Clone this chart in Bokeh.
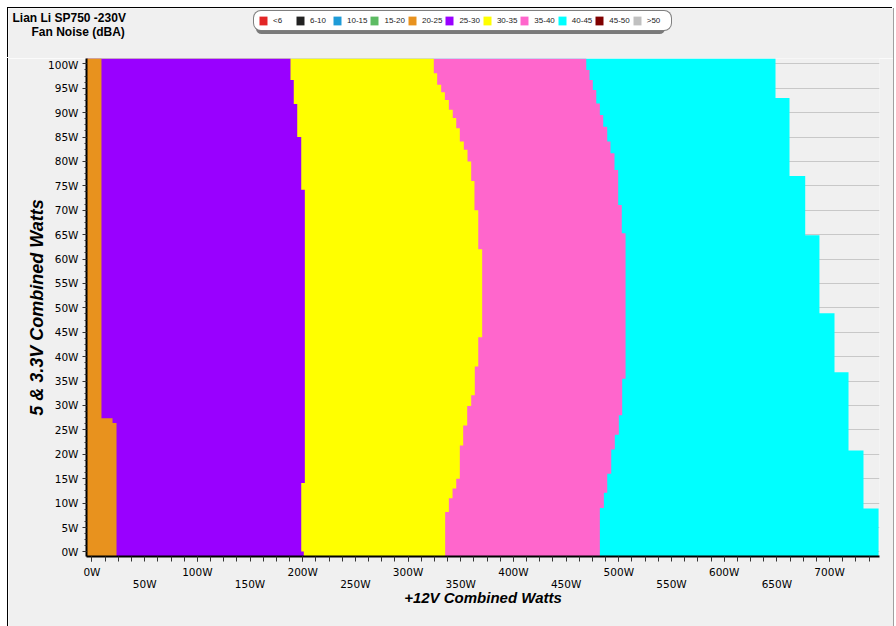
from bokeh.plotting import figure
from bokeh.models import (FixedTicker, PrintfTickFormatter, LinearAxis, Label,
                          Legend, LegendItem, Range1d, Spacer, Plot)
from bokeh.layouts import column, row
from bokeh.embed import file_html
from bokeh.resources import INLINE

# ---------------- data ----------------
title_line1 = "Lian Li SP750 -230V"
title_line2 = "Fan Noise (dBA)"
x_title = "+12V Combined Watts"
y_title = "5 & 3.3V Combined Watts"

legend_labels = ["<6", "6-10", "10-15", "15-20", "20-25", "25-30",
                 "30-35", "35-40", "40-45", "45-50", ">50"]
legend_colors = ["#E32626", "#222222", "#1E9BD7", "#5DBB63", "#E8921E", "#9900FF",
                 "#FFFF00", "#FF66CC", "#00FFFF", "#7F0000", "#C0C0C0"]

x_ticks_top = [0, 100, 200, 300, 400, 500, 600, 700]
x_ticks_bottom = [50, 150, 250, 350, 450, 550, 650]
y_ticks = [0, 5, 10, 15, 20, 25, 30, 35, 40, 45, 50, 55, 60, 65, 70, 75, 80, 85, 90, 95, 100]

# row edges (5V & 3.3V watts, top -> bottom) and right edge (+12V watts) of each band
band_20_25_y = [101.1, 27.4, 26.4, -0.94]
band_20_25_x = [9.0, 19.5, 23.3]

band_25_30_y = [101.1, 96.7, 91.8, 85.0, 74.2, 14.1, 0.1, -0.94]
band_25_30_x = [188.4, 191.5, 194.8, 198.6, 202.0, 198.6, 201.0]

band_30_35_y = [101.1, 98.1, 95.7, 94.2, 92.6, 90.6, 88.9, 86.8, 84.1, 82.4, 80.0, 76.0,
                70.0, 62.0, 44.0, 38.0, 32.1, 29.9, 25.9, 21.8, 15.0, 13.0, 11.0, 8.2, -0.94]
band_30_35_x = [324.4, 327.6, 331.4, 334.9, 338.7, 342.4, 345.7, 349.1, 352.9, 356.4, 359.9,
                363.0, 366.6, 370.3, 366.6, 363.3, 359.9, 356.1, 352.3, 349.1, 345.7, 342.2,
                338.7, 335.2]

band_35_40_y = [101.1, 98.75, 96.7, 94.65, 91.9, 89.5, 87.1, 84.1, 81.7, 78.25, 71.1, 65.3,
                35.5, 28.0, 24.0, 21.0, 16.0, 12.1, 9.0, -0.94]
band_35_40_x = [469.1, 472.2, 475.3, 478.6, 482.0, 485.2, 489.0, 492.1, 495.9, 499.4, 502.8,
                506.4, 503.2, 500.0, 496.2, 492.8, 489.0, 485.8, 482.0]

band_40_45_y = [101.1, 93.0, 77.0, 64.9, 48.9, 36.8, 20.8, 8.9, -0.94]
band_40_45_x = [648.7, 662.0, 676.9, 690.4, 704.7, 718.0, 732.2, 746.5]

X0, X1 = -5.2, 747.4
Y0, Y1 = -0.94, 101.1

BG = "#F0F0F0"
W = 885
HAS_FRAME_ALIGN = "frame_align" in Plot.properties()

# ---------------- header (titles + legend) ----------------
head = figure(width=W, height=50, x_range=Range1d(0, W), y_range=Range1d(50, 0),
              output_backend="svg", toolbar_location=None,
              x_axis_location=None, y_axis_location=None,
              min_border_left=0, min_border_right=0, min_border_top=0, min_border_bottom=0,
              background_fill_color=BG, border_fill_color=BG)
head.outline_line_color = None
head.grid.visible = False
head.styles = {"box-shadow": "-1px -1px 0 0 #000000, 1px 0 0 0 #A0A0A0"}
if HAS_FRAME_ALIGN:
    head.frame_align = False

head.add_layout(Label(x=4, y=9.5, text=title_line1,
                      text_font="Liberation Sans", text_font_style="bold",
                      text_font_size="12px", text_color="black",
                      text_align="left", text_baseline="alphabetic"))
head.add_layout(Label(x=23, y=23.5, text=title_line2,
                      text_font="Liberation Sans", text_font_style="bold",
                      text_font_size="12px", text_color="black",
                      text_align="left", text_baseline="alphabetic"))

# swatch renderers (placed outside the visible range, used only by the legend)
shadow_items, items = [], []
for lab, col in zip(legend_labels, legend_colors):
    rs = head.quad(left=[-60], right=[-50], top=[-60], bottom=[-50], fill_color=col,
                   fill_alpha=0, line_color=None)
    shadow_items.append(LegendItem(label=lab, renderers=[rs]))
    r = head.quad(left=[-60], right=[-50], top=[-60], bottom=[-50], fill_color=col,
                  line_color=None)
    items.append(LegendItem(label=lab, renderers=[r]))

common = dict(orientation="horizontal", glyph_width=10, glyph_height=11,
              label_standoff=5, label_width=20, label_height=11, spacing=2,
              padding=4, margin=0, label_text_font="Liberation Sans",
              label_text_font_size="8px")
shadow = Legend(items=shadow_items, location=(248, 24), border_line_color=None,
                background_fill_color="#7A7A7A", background_fill_alpha=1,
                label_text_alpha=0, **common)
leg = Legend(items=items, location=(245, 27), border_line_color="black",
             border_line_width=1, background_fill_color="white", background_fill_alpha=1,
             label_text_color="#222222", **common)
if "border_radius" in Legend.properties():
    shadow.border_radius = 8
    leg.border_radius = 8
head.add_layout(shadow)
head.add_layout(leg)

# ---------------- main figure ----------------
p = figure(width=W, height=568, x_range=Range1d(X0, X1), y_range=Range1d(Y0, Y1),
           output_backend="svg", toolbar_location=None,
           min_border_left=78, min_border_right=W - 871, min_border_top=0, min_border_bottom=70,
           background_fill_color=BG, border_fill_color=BG)
p.outline_line_color = None
p.styles = {"box-shadow": "-1px 0 0 0 #000000, 1px 0 0 0 #A0A0A0"}
if HAS_FRAME_ALIGN:
    p.frame_align = False


def step_outline(edges, rights, left):
    xs, ys = [left], [edges[0]]
    for i, r in enumerate(rights):
        xs += [r, r]
        ys += [edges[i], edges[i + 1]]
    xs.append(left)
    ys.append(edges[-1])
    return xs, ys


bands = [(band_40_45_y, band_40_45_x, "#00FFFF"),
         (band_35_40_y, band_35_40_x, "#FF66CC"),
         (band_30_35_y, band_30_35_x, "#FFFF00"),
         (band_25_30_y, band_25_30_x, "#9900FF"),
         (band_20_25_y, band_20_25_x, "#E8921E")]
for ey, rx, col in bands:
    xs, ys = step_outline(ey, rx, X0)
    p.patch(xs, ys, fill_color=col, line_color=None)

tick_font = "DejaVu Sans"
xa = p.xaxis[0]
xa.ticker = FixedTicker(ticks=x_ticks_top,
                        minor_ticks=[i * 12.5 for i in range(0, 60)])
xa.formatter = PrintfTickFormatter(format="%dW")
xa.axis_line_color = "black"
xa.axis_line_width = 2
xa.major_tick_out = 5
xa.major_tick_in = 0
xa.minor_tick_out = 5
xa.minor_tick_in = 0
xa.major_tick_line_color = "#333333"
xa.minor_tick_line_color = "#333333"
xa.major_label_standoff = 4
xa.major_label_text_font = tick_font
xa.major_label_text_font_size = "10.5px"
xa.major_label_text_color = "black"

xb = LinearAxis(ticker=FixedTicker(ticks=x_ticks_bottom, minor_ticks=[]),
                formatter=PrintfTickFormatter(format="%dW"))
xb.axis_line_color = None
xb.major_tick_line_color = None
xb.minor_tick_line_color = None
xb.major_tick_out = 0
xb.major_tick_in = 0
xb.minor_tick_out = 0
xb.minor_tick_in = 0
xb.major_label_standoff = -3
xb.major_label_text_font = tick_font
xb.major_label_text_font_size = "10.5px"
xb.major_label_text_color = "black"
xb.axis_label = x_title
xb.axis_label_text_font = "Liberation Sans"
xb.axis_label_text_font_style = "bold italic"
xb.axis_label_text_font_size = "15px"
xb.axis_label_text_color = "black"
xb.axis_label_standoff = -4
p.add_layout(xb, "below")

ya = p.yaxis[0]
yt = FixedTicker(ticks=y_ticks, minor_ticks=[i * 1.25 for i in range(0, 81)])
ya.ticker = yt
ya.formatter = PrintfTickFormatter(format="%dW")
ya.axis_line_color = "black"
ya.axis_line_width = 2
ya.major_tick_out = 4
ya.major_tick_in = 0
ya.minor_tick_out = 2
ya.minor_tick_in = 0
ya.major_tick_line_color = "#333333"
ya.minor_tick_line_color = "#333333"
ya.major_label_standoff = 4
ya.major_label_text_font = tick_font
ya.major_label_text_font_size = "10.5px"
ya.major_label_text_color = "black"
ya.axis_label = y_title
ya.axis_label_text_font = "Liberation Sans"
ya.axis_label_text_font_style = "bold italic"
ya.axis_label_text_font_size = "18px"
ya.axis_label_text_color = "black"
ya.axis_label_standoff = -2

p.xgrid.visible = False
p.ygrid.ticker = yt
p.ygrid.grid_line_color = "#C8C8C8"
p.ygrid.grid_line_width = 1

layout = column(Spacer(height=8), row(Spacer(width=8), column(head, p, spacing=0), spacing=0),
                spacing=0)

open("out.html", "w").write(file_html(layout, INLINE))
